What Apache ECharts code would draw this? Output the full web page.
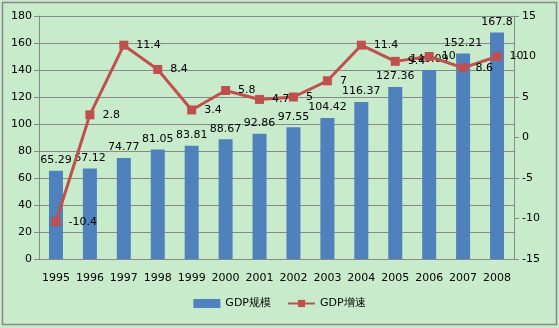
<!DOCTYPE html>
<html><head><meta charset="utf-8">
<script src="https://cdn.jsdelivr.net/npm/echarts@6/dist/echarts.min.js"></script>
<style>html,body{margin:0;padding:0;background:#fff}#c{width:559px;height:328px}</style>
</head><body><div id="c"></div>
<script>
const years = ['1995','1996','1997','1998','1999','2000','2001','2002','2003','2004','2005','2006','2007','2008'];
const gdpScale = [65.29,67.12,74.77,81.05,83.81,88.67,92.86,97.55,104.42,116.37,127.36,140.09,152.21,167.8];
const gdpGrowth = [-10.4,2.8,11.4,8.4,3.4,5.8,4.7,5,7,11.4,9.4,10,8.6,10];
const font = 'DejaVu Sans';
const chart = echarts.init(document.getElementById('c'));
chart.setOption({
  backgroundColor: '#C8ECCB',
  animation: false,
  textStyle: {fontFamily: font},
  graphic: [{type:'rect', shape:{x:2.5,y:2.5,width:554,height:322}, style:{fill:'none', stroke:'#888', lineWidth:1.5}, silent:true}],
  grid: {left: 39, right: 45, top: 16, bottom: 69},
  legend: {
    bottom: 14, left: 'center', itemWidth: 27, itemHeight: 9, itemGap: 16,
    textStyle: {fontFamily: font, fontSize: 11, color: '#000'},
    data: [{name:'GDP规模', icon:'rect'}, {name:'GDP增速'}]
  },
  xAxis: {
    type: 'category', data: years,
    axisLine: {lineStyle: {color: '#888'}},
    axisTick: {lineStyle: {color: '#888'}, length: 5},
    axisLabel: {color: '#000', fontSize: 11, fontFamily: font, margin: 14, interval: 0}
  },
  yAxis: [{
    type: 'value', min: 0, max: 180, interval: 20,
    axisLine: {show: true, lineStyle: {color: '#888'}},
    axisTick: {show: true, lineStyle: {color: '#888'}, length: 5},
    splitLine: {lineStyle: {color: '#888'}},
    axisLabel: {color: '#000', fontSize: 11, fontFamily: font, margin: 7}
  }, {
    type: 'value', min: -15, max: 15, interval: 5, position: 'right',
    axisLine: {show: true, lineStyle: {color: '#888'}},
    axisTick: {show: true, lineStyle: {color: '#888'}, length: 5},
    splitLine: {show: false},
    axisLabel: {color: '#000', fontSize: 11, fontFamily: font, margin: 8}
  }],
  series: [{
    name: 'GDP规模', type: 'bar', data: gdpScale, barWidth: 14,
    itemStyle: {color: '#4F81BD'},
    label: {show: true, position: 'top', distance: 5, color: '#000', fontSize: 11, fontFamily: font}
  }, {
    name: 'GDP增速', type: 'line', yAxisIndex: 1, data: gdpGrowth,
    symbol: 'rect', symbolSize: 9,
    lineStyle: {color: '#C0504D', width: 3},
    itemStyle: {color: '#C0504D'},
    label: {show: true, position: 'right', distance: 8, color: '#000', fontSize: 11, fontFamily: font}
  }]
});
</script></body></html>
